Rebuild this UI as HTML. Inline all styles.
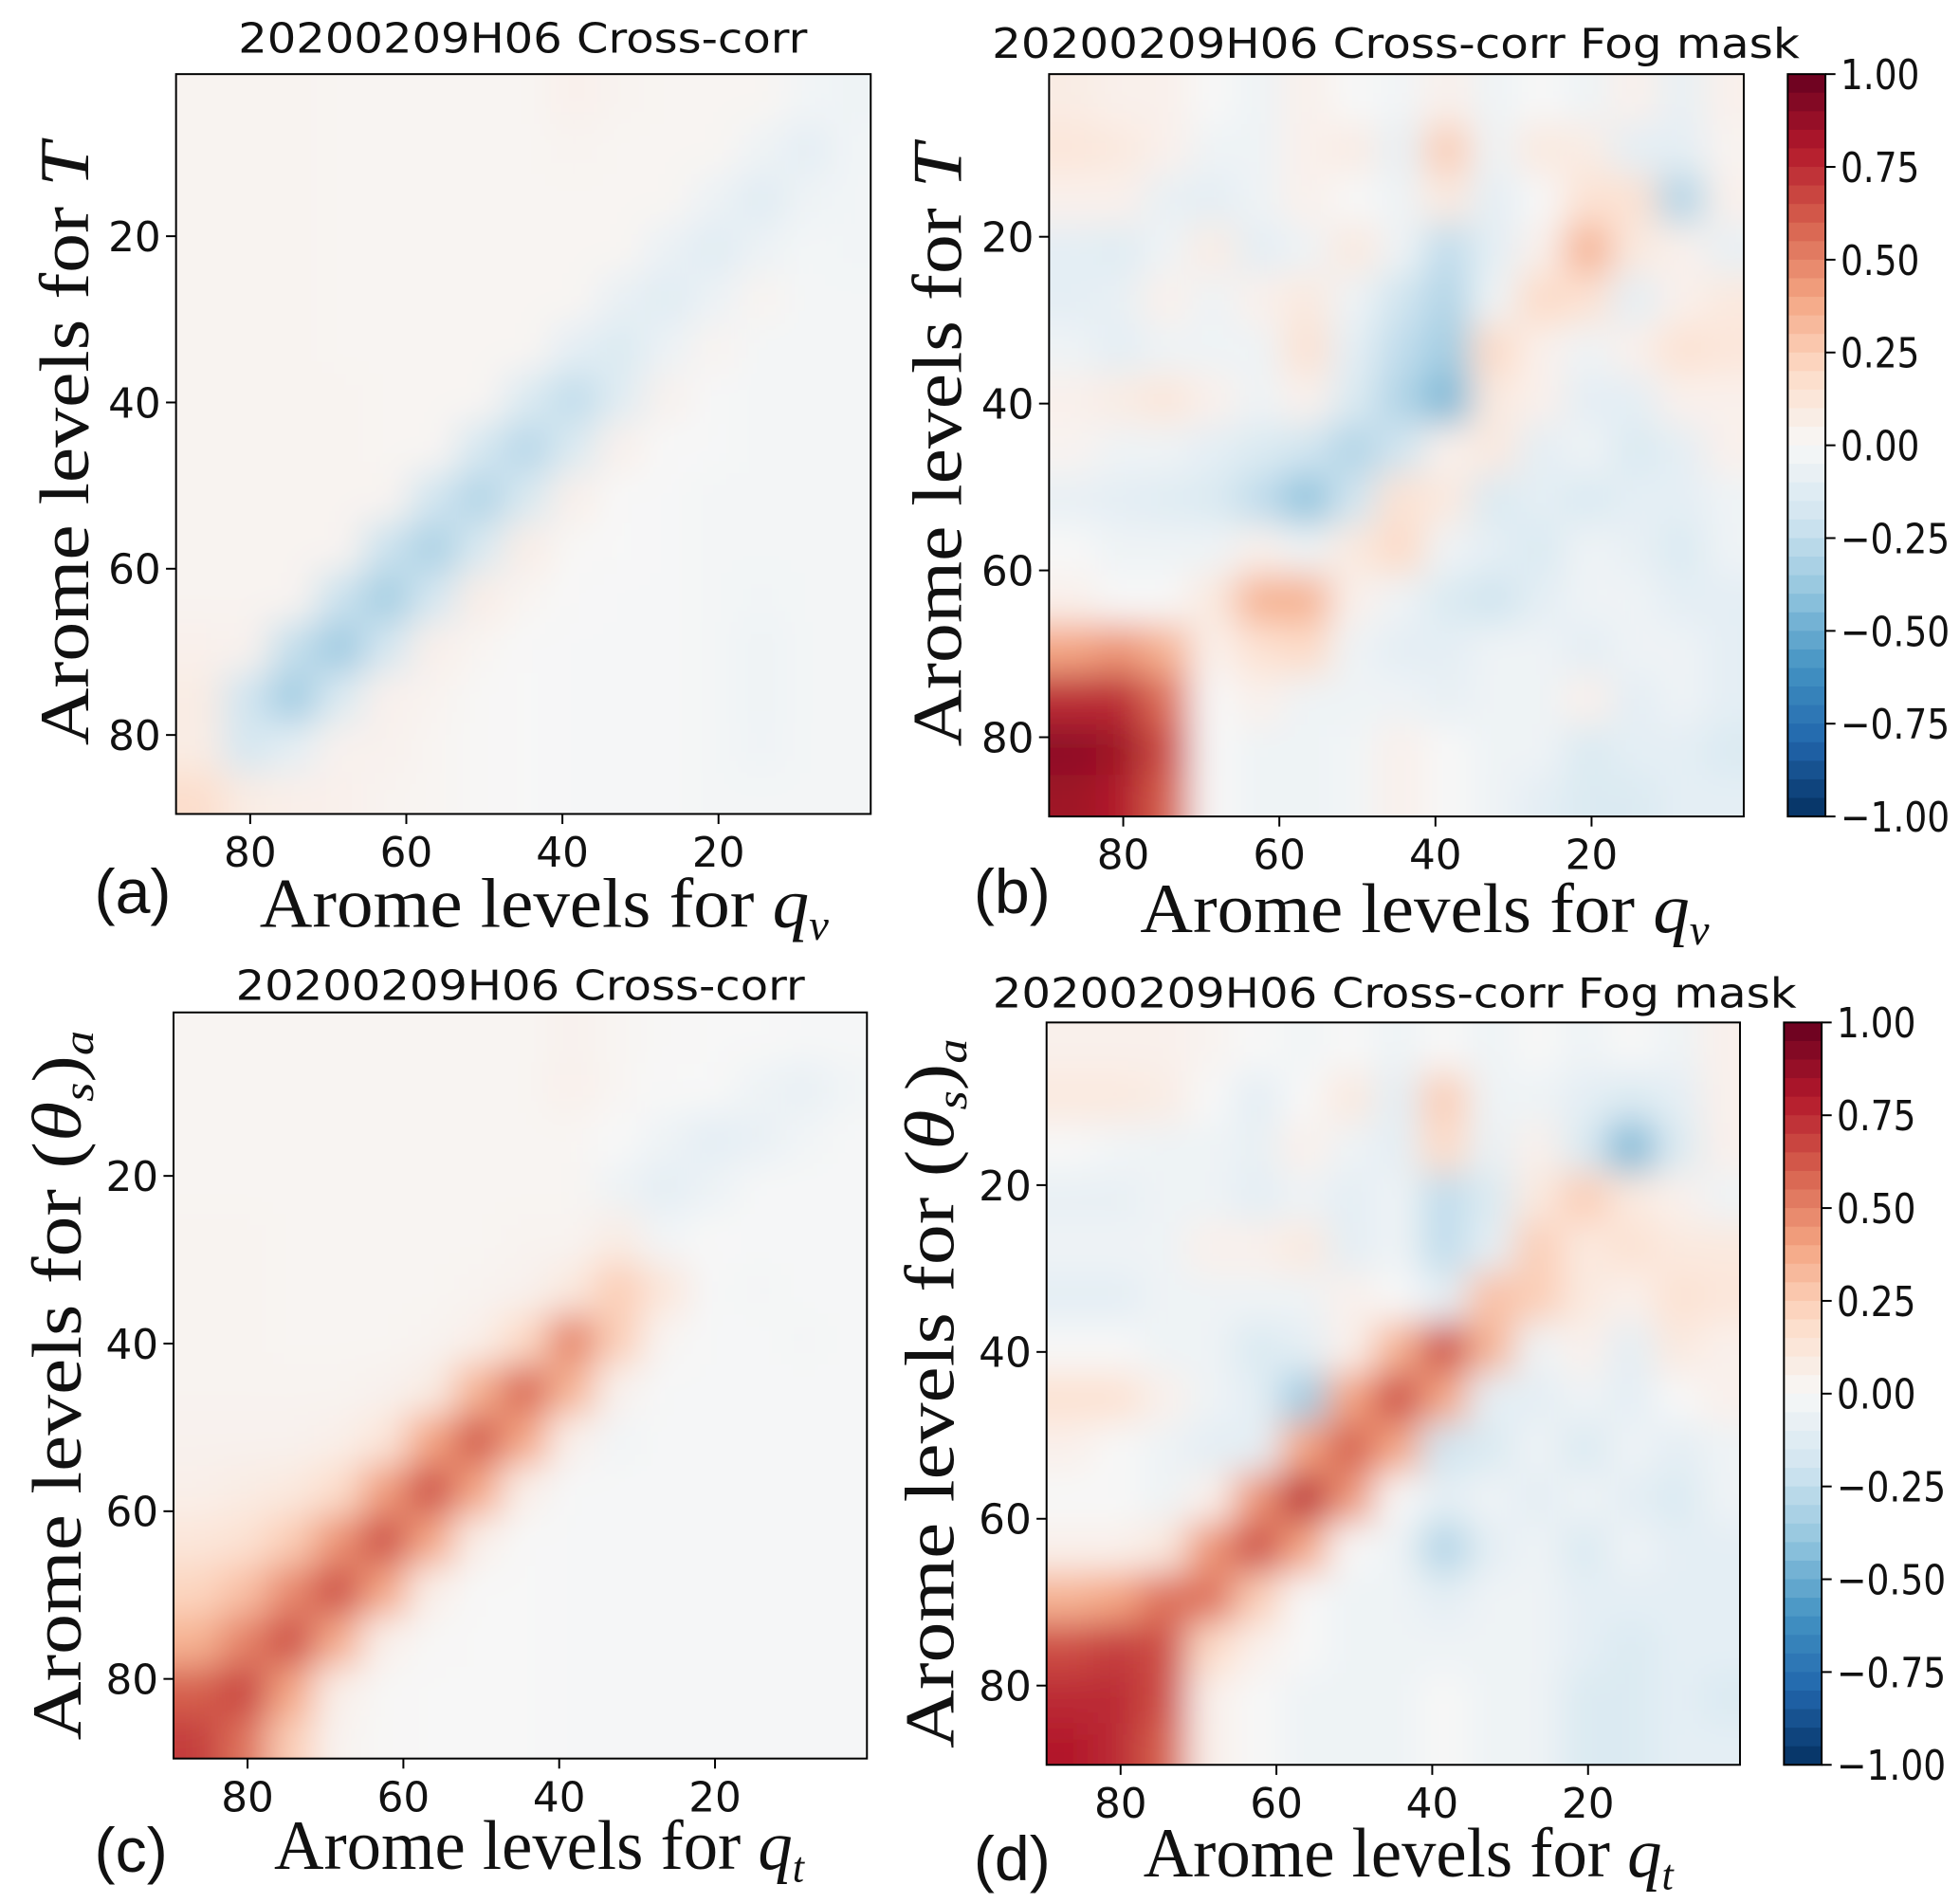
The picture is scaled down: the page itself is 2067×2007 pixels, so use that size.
<!DOCTYPE html>
<html><head><meta charset="utf-8">
<style>
html,body{margin:0;padding:0;background:#fff;}
svg{display:block;}
.tick{font-family:"DejaVu Sans","Liberation Sans",sans-serif;font-size:33px;fill:#111;}
.ttl{font-family:"DejaVu Sans","Liberation Sans",sans-serif;font-size:33px;fill:#111;}
.lab{font-family:"Liberation Serif","DejaVu Serif",serif;font-size:56px;fill:#111;}
.pl{font-family:"Liberation Sans","DejaVu Sans",sans-serif;font-size:50px;fill:#111;}
</style></head>
<body>
<svg id="fig" width="2067" height="2007" viewBox="0 0 1560 1515" xmlns="http://www.w3.org/2000/svg">
<defs><filter id="blur" x="-5%" y="-5%" width="110%" height="110%"><feGaussianBlur stdDeviation="14"/></filter></defs>
</svg>
<script>
// rows top->bottom (levels 0..90), cols left->right (levels 90..0); values x100
const dataA=[
[3,3,3,2,2,2,2,2,5,3,2,2,2,-3,-5],
[3,3,3,2,2,2,2,2,3,2,2,2,-5,-10,-3],
[3,3,3,2,2,2,2,2,2,2,2,-6,-12,-5,-3],
[3,3,3,2,2,2,2,2,2,2,-7,-12,-6,-2,-3],
[3,3,3,2,2,2,2,2,2,-8,-12,-6,3,-2,-2],
[3,3,3,2,2,2,2,2,-10,-15,-6,3,-2,-2,-2],
[3,3,3,3,2,2,2,-15,-25,-12,4,-1,-2,-2,-2],
[3,3,3,3,2,2,-18,-28,-15,5,0,-1,-2,-2,-2],
[3,3,3,3,3,-20,-30,-16,6,0,-1,-2,-2,-2,-2],
[3,3,3,3,-22,-32,-16,7,1,0,-1,-2,-2,-2,-2],
[3,3,3,-22,-34,-18,7,2,0,-1,-1,-2,-3,-2,-2],
[5,4,-24,-36,-18,6,2,0,-1,-1,-1,-2,-5,-2,-2],
[8,-20,-35,-15,5,3,1,0,-1,-1,-1,-2,-5,-2,-2],
[8,-18,-10,4,4,2,1,0,-1,-1,-1,-2,-4,-2,-2],
[18,8,6,5,3,2,1,0,-1,-1,-1,-2,-2,-2,-2]];
const dataB=[
[8,5,5,0,-5,5,0,-3,5,-5,0,-5,5,-8,5],
[12,10,5,-5,-5,5,8,-8,25,-5,10,8,-10,-10,3],
[5,5,-8,-10,-5,5,0,-5,10,-10,0,15,15,-30,5],
[-10,-12,-5,8,-10,-5,10,-5,-25,-10,5,35,10,5,-8],
[-10,-8,5,-5,5,10,-5,-20,-30,-5,20,15,-10,5,10],
[-5,-10,-5,-5,-5,15,-10,-25,-35,20,5,-5,5,15,12],
[5,8,12,5,-5,5,-15,-30,-45,10,5,-10,-10,5,5],
[3,-5,-5,-10,-15,-20,-30,-20,5,10,-10,-5,-15,-10,5],
[-8,-10,-12,-15,-25,-40,-20,15,10,-15,-10,-15,-10,-10,-5],
[0,-5,-5,-5,5,-5,10,20,-5,-10,-15,-5,-8,-15,-5],
[5,0,0,10,35,35,5,-5,-15,-20,-10,-5,-5,-10,-10],
[40,45,35,5,15,20,-5,-10,-10,-5,-5,-10,-5,-5,-10],
[75,75,55,0,5,-5,-5,-5,-8,-5,-5,5,-10,-5,-10],
[90,85,65,0,-5,-5,-3,5,0,-5,-5,-15,-10,-10,-15],
[85,80,60,0,-5,-5,-3,5,0,-5,-10,-15,-15,-10,-10]];
const dataC=[
[2,2,2,2,2,2,2,2,4,2,1,0,0,-1,-1],
[2,2,2,2,2,2,2,2,5,2,0,0,-5,-8,-3],
[2,2,2,2,2,2,2,2,2,0,-5,-10,-8,-3,-1],
[2,2,2,2,2,2,2,2,2,-5,-10,-6,-1,-1,-1],
[3,3,2,2,2,2,2,3,3,8,-3,0,-1,-1,-1],
[3,3,2,2,2,2,3,4,10,25,12,-1,-2,-1,-1],
[3,3,2,2,2,3,6,20,50,25,2,-1,-1,-2,-1],
[3,3,3,3,4,8,35,58,35,4,-1,-1,-1,-1,-1],
[4,4,4,6,12,40,62,40,5,-3,-1,-1,-1,-1,-1],
[6,8,10,18,42,65,40,6,-1,-1,-1,-1,-1,-1,-1],
[12,15,25,45,65,40,6,0,-1,-1,-1,-1,-1,-1,-1],
[22,30,48,65,40,6,0,0,-1,-1,-1,-1,-1,-1,-1],
[35,50,65,38,5,1,0,0,-1,-1,-1,-1,-1,-1,-1],
[60,68,40,6,1,0,0,0,-1,-1,-1,-1,-1,-1,-1],
[70,55,25,3,1,0,0,0,-1,-1,-1,-1,-1,-1,-1]];
const dataD=[
[5,5,5,3,0,-3,0,-5,0,-5,0,-5,0,-5,5],
[10,10,8,0,-10,0,10,-10,25,-5,-5,-10,-15,-10,5],
[0,-3,-5,-5,-8,5,-5,-10,20,-8,5,-15,-45,-15,5],
[-8,-8,-5,-5,-10,-5,-10,-5,-25,-15,10,25,10,5,-5],
[-5,-5,-5,5,5,10,-10,-5,-25,-10,25,10,15,10,10],
[-10,-10,-5,-5,-5,-5,5,0,-10,30,25,10,5,15,12],
[0,0,-5,-5,-15,-10,5,35,65,35,-5,5,-10,10,5],
[15,15,5,-5,-10,-35,40,65,40,-10,-10,-5,-10,0,5],
[5,0,-5,-10,-10,40,60,40,-20,-15,-5,-15,-5,-10,-5],
[0,0,-5,5,45,75,45,0,-10,-5,-10,-5,-10,-15,-5],
[5,5,10,45,65,40,0,-5,-30,-10,-5,-15,-5,-10,-10],
[35,40,55,55,25,0,-5,-5,-10,-5,-5,-10,-10,-10,-10],
[65,70,65,20,5,0,-5,-5,-5,-5,-5,-10,-15,-10,-10],
[75,75,65,5,0,-5,-5,-5,0,-5,-5,-15,-15,-10,-15],
[80,75,60,5,0,-5,-5,-5,0,-5,-5,-15,-15,-10,-10]];
const xTicks=[80,60,40,20];
const yTicks=[20,40,60,80];
const cbTicks=[1,0.75,0.5,0.25,0,-0.25,-0.5,-0.75,-1];
const cbLabels=["1.00","0.75","0.50","0.25","0.00","\u22120.25","\u22120.50","\u22120.75","\u22121.00"];

const NS="http://www.w3.org/2000/svg";
const svg=document.getElementById('fig');
const stops=[[5,48,97],[33,102,172],[67,147,195],[146,197,222],[209,229,240],[247,247,247],[253,219,199],[244,165,130],[214,96,77],[178,24,43],[103,0,31]];
function cmap(v){v=Math.max(-1,Math.min(1,v));const t=(v+1)/2*10;const i=Math.min(9,Math.floor(t));const f=t-i;const a=stops[i],b=stops[i+1];
return 'rgb('+a.map((c,k)=>Math.round(c+(b[k]-c)*f)).join(',')+')';}
function mk(tag,attrs,parent){const e=document.createElementNS(NS,tag);for(const k in attrs)e.setAttribute(k,attrs[k]);(parent||svg).appendChild(e);return e;}

const panels=[
{id:'a',data:dataA,x0:140,x1:693,y0:59,y1:648,title:"20200209H06 Cross-corr",tx:416,ty:42,tl:453,xl:"v",yl:"T",letter:"(a)",lx:75,ly:727,xlabX:433,xlabY:738,xlen:453,ylabX:70,ylen:480,cb:false},
{id:'b',data:dataB,x0:835,x1:1388,y0:59,y1:650,title:"20200209H06 Cross-corr Fog mask",tx:1111,ty:46,tl:643,xl:"v",yl:"T",letter:"(b)",lx:775,ly:727,xlabX:1134,xlabY:742,xlen:453,ylabX:765,ylen:480,cb:true,cx:1423},
{id:'c',data:dataC,x0:138,x1:690,y0:806,y1:1400,title:"20200209H06 Cross-corr",tx:414,ty:796,tl:453,xl:"t",yl:"θ",letter:"(c)",lx:75,ly:1490,xlabX:429,xlabY:1488,xlen:422,ylabX:64,ylen:565,cb:false},
{id:'d',data:dataD,x0:833,x1:1385,y0:814,y1:1405,title:"20200209H06 Cross-corr Fog mask",tx:1110,ty:802,tl:640,xl:"t",yl:"θ",letter:"(d)",lx:775,ly:1497,xlabX:1121,xlabY:1494,xlen:422,ylabX:759,ylen:565,cb:true,cx:1420}];

panels.forEach(p=>{
  const g=mk('g',{});
  
  
  const xs=l=>p.x0+(89.5-l)/89*(p.x1-p.x0);
  const ys=l=>p.y0+(l-0.5)/89*(p.y1-p.y0);
  const cp=mk('clipPath',{id:'clip'+p.id},g);
  mk('rect',{x:p.x0,y:p.y0,width:p.x1-p.x0,height:p.y1-p.y0},cp);
  const hg=mk('g',{'clip-path':'url(#clip'+p.id+')'},g);
  const hm=mk('g',{filter:'url(#blur)'},hg);
  
  
  const n=p.data.length;
  p.data.forEach((row,i)=>{row.forEach((v,j)=>{
    let la=Math.max(0.5,6*i+0.5), lb=Math.min(89.5,6*i+6.5);
    let ca=Math.min(89.5,90-6*j-0.5), cb=Math.max(0.5,90-6*j-6.5);
    let x=xs(ca),w=xs(cb)-x,y=ys(la),h=ys(lb)-y;
    if(j===0){x-=40;w+=40;} if(j===row.length-1)w+=40;
    if(i===0){y-=40;h+=40;} if(i===n-1)h+=40;
    const r=mk('rect',{x:x,y:y,width:w+0.5,height:h+0.5,fill:cmap(v/100)},hm);
    
    
  });});
  const fr=mk('rect',{x:p.x0,y:p.y0,width:p.x1-p.x0,height:p.y1-p.y0,fill:'none',stroke:'#000','stroke-width':1.5},g);
  
  
  xTicks.forEach(t=>{const x=xs(t);mk('line',{x1:x,x2:x,y1:p.y1,y2:p.y1+8,stroke:'#000','stroke-width':1.5},g);
    const tt=mk('text',{x:x,y:p.y1+42,'text-anchor':'middle',class:'tick'},g);tt.textContent=t;
    
    });
  yTicks.forEach(t=>{const y=ys(t);mk('line',{x1:p.x0-8,x2:p.x0,y1:y,y2:y,stroke:'#000','stroke-width':1.5},g);
    const tt=mk('text',{x:p.x0-12,y:y+12,'text-anchor':'end',class:'tick'},g);tt.textContent=t;
    
    });
  const ti=mk('text',{x:p.tx,y:p.ty,'text-anchor':'middle',class:'ttl',textLength:p.tl,lengthAdjust:'spacingAndGlyphs'},g);ti.textContent=p.title;
  
  
  const le=mk('text',{x:p.lx,y:p.ly,class:'pl'},g);le.textContent=p.letter;
  
  
  const xl=mk('text',{x:p.xlabX,y:p.xlabY,'text-anchor':'middle',class:'lab',textLength:p.xlen,lengthAdjust:'spacingAndGlyphs'},g);
  xl.innerHTML='Arome levels for <tspan font-style="italic">q</tspan><tspan font-style="italic" font-size="34" dy="10">'+p.xl+'</tspan>';
  
  
  const cy=(p.y0+p.y1)/2;
  const yl=mk('text',{x:0,y:0,'text-anchor':'middle',class:'lab',textLength:p.ylen,lengthAdjust:'spacingAndGlyphs',transform:'translate('+p.ylabX+','+(cy)+') rotate(-90)'},g);
  if(p.yl==='T') yl.innerHTML='Arome levels for <tspan font-style="italic">T</tspan>';
  else yl.innerHTML='Arome levels for (<tspan font-style="italic">θ</tspan><tspan font-style="italic" font-size="34" dy="10">s</tspan><tspan dy="-10">)</tspan><tspan font-style="italic" font-size="34" dy="10">a</tspan>';
  
  
  if(p.cb){
    const cg=mk('g',{},g);
    
    
    const H=p.y1-p.y0, nb=40;
    for(let k=0;k<nb;k++){const v=1-(k+0.5)*2/nb;
      mk('rect',{x:p.cx,y:p.y0+k*H/nb,width:30,height:H/nb+0.6,fill:cmap(v)},cg);}
    mk('rect',{x:p.cx,y:p.y0,width:30,height:H,fill:'none',stroke:'#000','stroke-width':1.5},cg);
    cbTicks.forEach((t,k)=>{const y=p.y0+(1-t)/2*H;
      mk('line',{x1:p.cx+30,x2:p.cx+38,y1:y,y2:y,stroke:'#000','stroke-width':1.5},cg);
      const neg=cbLabels[k].charAt(0)==='\u2212';
      const tt=mk('text',{x:p.cx+42,y:y+12,class:'tick',textLength:neg?87:63,lengthAdjust:'spacingAndGlyphs'},cg);tt.textContent=cbLabels[k];
      
      });
  }
});
</script>
</body></html>
